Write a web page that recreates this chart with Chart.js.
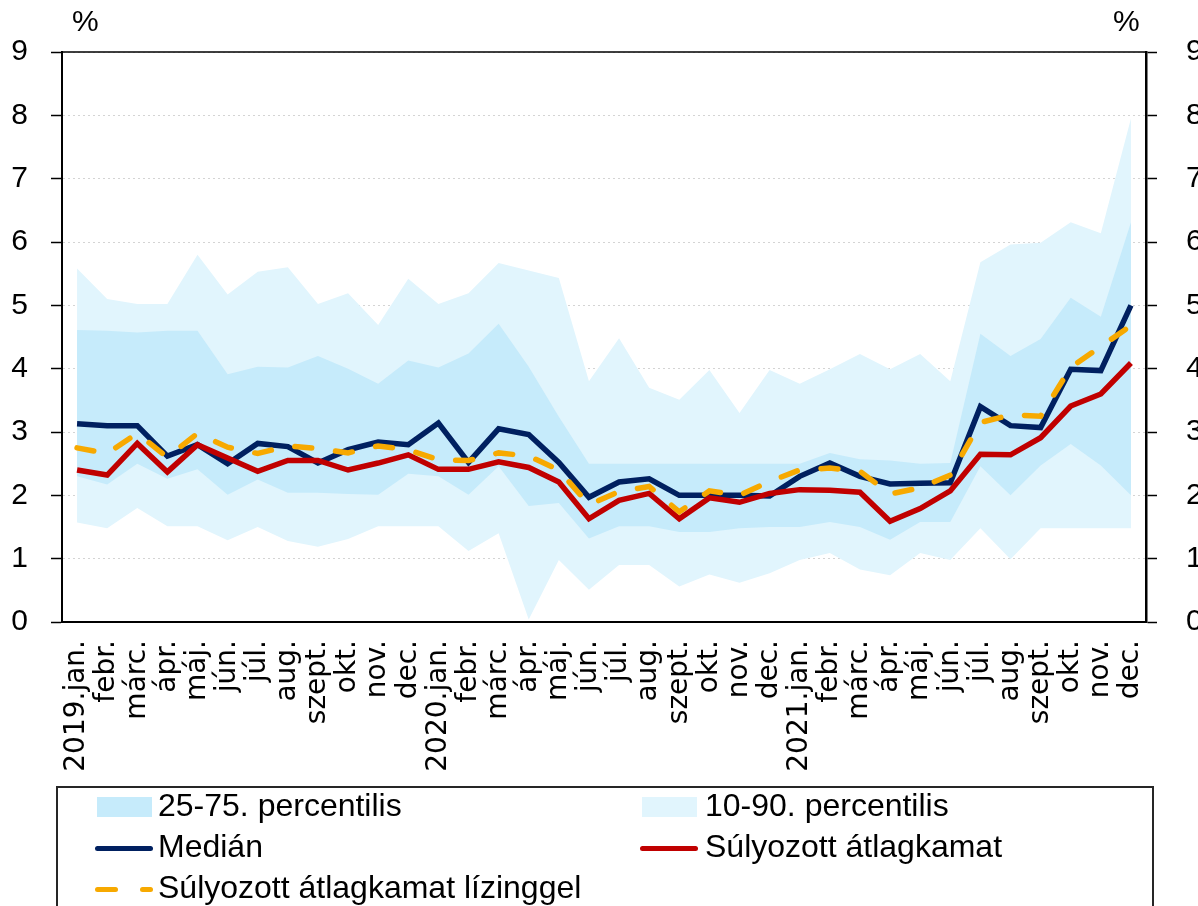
<!DOCTYPE html>
<html>
<head>
<meta charset="utf-8">
<script src="https://cdn.jsdelivr.net/npm/chart.js@4.4.0/dist/chart.umd.min.js"></script>
<style>
  body { margin: 0; background: #fff; overflow: hidden; }
  #wrap { position: relative; width: 1198px; height: 906px; overflow: hidden; }
  #rateChart { position: absolute; left: 0; top: 0; }
  .pct { position: absolute; top: 4px; font: 30px "Liberation Sans", Arial, sans-serif; color: #000; }
  #legend { position: absolute; left: 56px; top: 786px; width: 1098px; height: 150px; box-sizing: border-box; border: 2px solid #262626; }
  .item { position: absolute; height: 40px; line-height: 40px; font: 32px "Liberation Sans", Arial, sans-serif; color: #000; white-space: nowrap; }
  .sw { position: absolute; }
</style>
</head>
<body>
<div id="wrap">
  <canvas id="rateChart" width="1198" height="906"></canvas>
  <span class="pct" style="left:72px">%</span>
  <span class="pct" style="left:1113px">%</span>
  <div id="legend"></div>
</div>
<script>
const months = ['jan.', 'febr.', 'márc.', 'ápr.', 'máj.', 'jún.', 'júl.', 'aug.', 'szept.', 'okt.', 'nov.', 'dec.'];
const labels = [];
['2019', '2020', '2021'].forEach(y => {
  months.forEach((m, i) => labels.push(i === 0 ? y + '.' + m : m));
});

const yTicks = [0, 1, 2, 3, 4, 5, 6, 7, 8, 9];

const median = [3.13, 3.10, 3.10, 2.62, 2.80, 2.50, 2.82, 2.77, 2.51, 2.72, 2.84, 2.80,
  3.14, 2.52, 3.05, 2.96, 2.52, 1.97, 2.21, 2.26, 2.00, 2.00, 2.00, 1.99,
  2.30, 2.51, 2.30, 2.18, 2.19, 2.20, 3.40, 3.10, 3.07, 3.99, 3.97, 5.00];

const weighted = [2.40, 2.32, 2.82, 2.37, 2.80, 2.59, 2.38, 2.55, 2.55, 2.40, 2.51, 2.64,
  2.41, 2.41, 2.53, 2.44, 2.21, 1.63, 1.92, 2.03, 1.63, 1.96, 1.89, 2.03,
  2.09, 2.08, 2.05, 1.59, 1.79, 2.07, 2.65, 2.64, 2.91, 3.41, 3.60, 4.09];

const weightedLeasing = [2.75, 2.66, 2.98, 2.60, 2.98, 2.76, 2.66, 2.78, 2.74, 2.67, 2.78, 2.72,
  2.56, 2.55, 2.67, 2.62, 2.40, 1.85, 2.06, 2.14, 1.74, 2.07, 2.00, 2.22,
  2.40, 2.43, 2.38, 2.02, 2.12, 2.32, 3.15, 3.27, 3.25, 4.02, 4.35, 4.68];

const p75 = [4.61, 4.60, 4.57, 4.60, 4.60, 3.91, 4.03, 4.02, 4.20, 4.00, 3.76, 4.13,
  4.02, 4.24, 4.71, 4.03, 3.24, 2.50, 2.50, 2.50, 2.50, 2.50, 2.50, 2.50,
  2.50, 2.67, 2.57, 2.55, 2.50, 2.51, 4.55, 4.20, 4.47, 5.12, 4.82, 6.31];

const p25 = [2.30, 2.17, 2.50, 2.26, 2.41, 2.01, 2.25, 2.04, 2.04, 2.02, 2.01, 2.34,
  2.30, 2.01, 2.46, 1.83, 1.88, 1.32, 1.51, 1.51, 1.42, 1.42, 1.48, 1.50,
  1.50, 1.58, 1.50, 1.30, 1.58, 1.58, 2.46, 2.00, 2.47, 2.81, 2.47, 2.00];

const p90 = [5.58, 5.10, 5.02, 5.02, 5.80, 5.17, 5.53, 5.60, 5.02, 5.19, 4.69, 5.42,
  5.02, 5.19, 5.67, 5.55, 5.43, 3.80, 4.48, 3.70, 3.51, 3.98, 3.30, 3.98,
  3.76, 3.99, 4.23, 3.99, 4.23, 3.80, 5.68, 5.96, 5.99, 6.31, 6.14, 7.95];

const p10 = [1.57, 1.48, 1.80, 1.51, 1.51, 1.29, 1.50, 1.28, 1.19, 1.31, 1.51, 1.51,
  1.51, 1.12, 1.40, 0.04, 0.98, 0.51, 0.90, 0.90, 0.56, 0.75, 0.62, 0.77,
  0.98, 1.09, 0.83, 0.74, 1.09, 0.98, 1.48, 0.99, 1.48, 1.48, 1.48, 1.48];

const NAVY = '#002060';
const RED = '#C00000';
const ORANGE = '#F7A900';
const BAND_IN = '#C6EBFB';
const BAND_OUT = '#E1F5FD';

const tickFont = { family: '"Liberation Sans", Arial, sans-serif', size: 30 };

// top border of the plot area
const topLine = {
  id: 'topLine',
  afterDraw(chart) {
    const { ctx, chartArea } = chart;
    ctx.save();
    ctx.strokeStyle = '#000';
    ctx.lineWidth = 1.5;
    ctx.beginPath();
    ctx.moveTo(chartArea.left, chartArea.top);
    ctx.lineTo(chartArea.right, chartArea.top);
    ctx.stroke();
    ctx.restore();
  }
};

function edge(data) {
  return { data: data, borderWidth: 0, borderColor: 'rgba(0,0,0,0)', pointRadius: 0, fill: false };
}

const ctx = document.getElementById('rateChart').getContext('2d');
const rateChart = new Chart(ctx, {
  type: 'line',
  data: {
    labels: labels,
    datasets: [
      { label: 'Súlyozott átlagkamat lízinggel', data: weightedLeasing, borderColor: ORANGE, borderWidth: 5.5,
        borderDash: [17, 24], borderCapStyle: 'round', pointRadius: 0, fill: false, order: 0 },
      { label: 'Súlyozott átlagkamat', data: weighted, borderColor: RED, borderWidth: 5.5, pointRadius: 0, fill: false, order: 1 },
      { label: 'Medián', data: median, borderColor: NAVY, borderWidth: 5.5, pointRadius: 0, fill: false, order: 2 },
      Object.assign(edge(p75), { label: '25-75. percentilis', fill: 4, backgroundColor: BAND_IN, order: 3 }),
      Object.assign(edge(p25), { label: 'p25', order: 4 }),
      Object.assign(edge(p90), { label: '10-90. percentilis', fill: 6, backgroundColor: BAND_OUT, order: 5 }),
      Object.assign(edge(p10), { label: 'p10', order: 6 })
    ]
  },
  options: {
    responsive: false,
    animation: false,
    events: [],
    layout: { padding: { top: 52, left: 0, right: 0, bottom: 0 } },
    plugins: {
      legend: { display: false },
      tooltip: { enabled: false }
    },
    scales: {
      x: {
        offset: true,
        grid: { display: false, drawTicks: false },
        border: { display: true, color: '#000', width: 2 },
        ticks: {
          autoSkip: false, maxRotation: 90, minRotation: 90, padding: 18, color: '#000',
          font: { family: '"DejaVu Sans", sans-serif', size: 28 }
        },
        afterFit(scale) { scale.height = 284; }
      },
      y: {
        position: 'left',
        min: 0, max: 9,
        afterBuildTicks(scale) { scale.ticks = yTicks.map(v => ({ value: v })); },
        grid: { color: '#d4d4d4', lineWidth: 1, tickLength: 11, tickColor: '#000', tickWidth: 1.5 },
        border: { display: true, color: '#000', width: 2, dash: [2, 3] },
        ticks: { padding: 23, color: '#000', font: tickFont },
        afterFit(scale) { scale.width = 62; }
      },
      y2: {
        position: 'right',
        min: 0, max: 9,
        afterBuildTicks(scale) { scale.ticks = yTicks.map(v => ({ value: v })); },
        grid: { drawOnChartArea: false, tickLength: 11, tickColor: '#000', tickWidth: 1.5 },
        border: { display: true, color: '#000', width: 2.5 },
        ticks: { padding: 29, color: '#000', font: tickFont },
        afterFit(scale) { scale.width = 52; }
      }
    }
  },
  plugins: [topLine]
});

// legend
const legendItems = [
  { text: '25-75. percentilis', kind: 'box', color: BAND_IN, x: 97, y: 807 },
  { text: '10-90. percentilis', kind: 'box', color: BAND_OUT, x: 642, y: 807 },
  { text: 'Medián', kind: 'line', color: NAVY, x: 95, y: 848 },
  { text: 'Súlyozott átlagkamat', kind: 'line', color: RED, x: 640, y: 848 },
  { text: 'Súlyozott átlagkamat lízinggel', kind: 'dash', color: ORANGE, x: 95, y: 889 }
];

const wrap = document.getElementById('wrap');
legendItems.forEach(it => {
  if (it.kind === 'box') {
    const s = document.createElement('div');
    s.className = 'sw';
    s.style.cssText = `left:${it.x}px;top:${it.y - 10}px;width:55px;height:20px;background:${it.color}`;
    wrap.appendChild(s);
  } else {
    const parts = it.kind === 'line' ? [[0, 58]] : [[0, 23], [45, 58]];
    parts.forEach(p => {
      const s = document.createElement('div');
      s.className = 'sw';
      s.style.cssText = `left:${it.x + p[0]}px;top:${it.y - 2.5}px;width:${p[1] - p[0]}px;height:5px;border-radius:3px;background:${it.color}`;
      wrap.appendChild(s);
    });
  }
  const t = document.createElement('div');
  t.className = 'item';
  t.style.left = (it.x < 300 ? 158 : 705) + 'px';
  t.style.top = (it.y - 20) + 'px';
  t.textContent = it.text;
  wrap.appendChild(t);
});
</script>
</body>
</html>
